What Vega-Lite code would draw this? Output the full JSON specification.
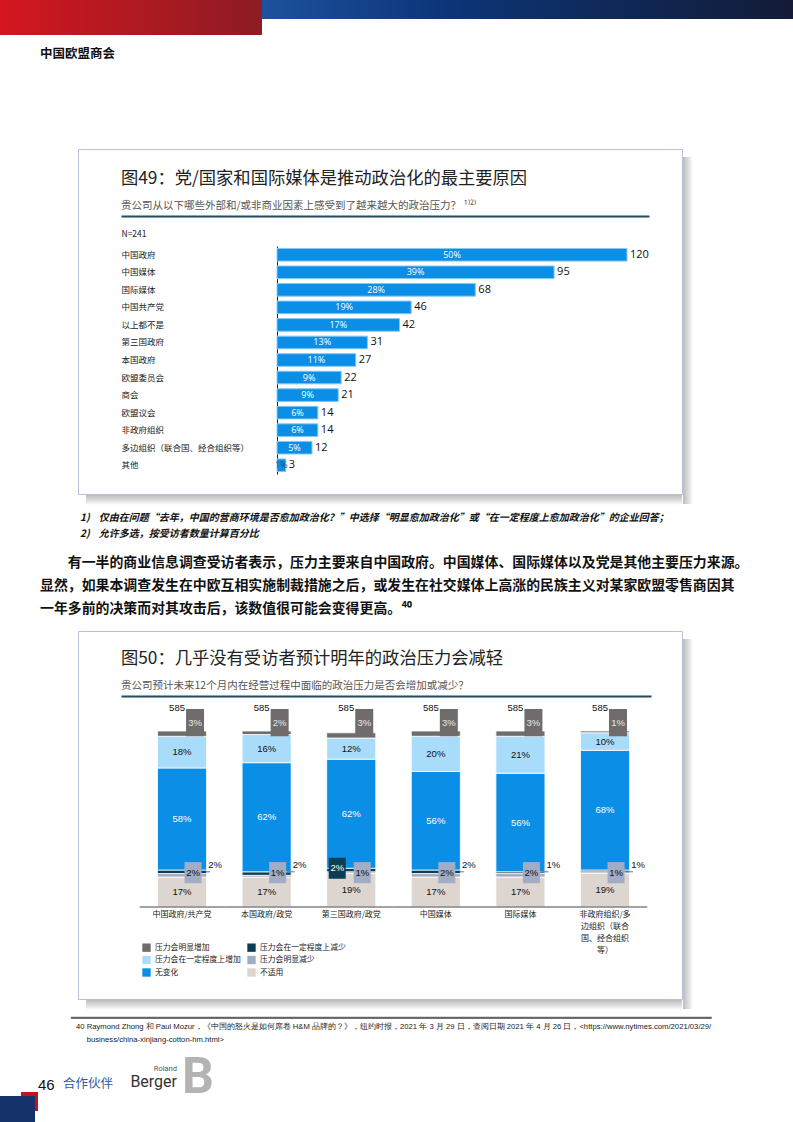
{
  "$schema": "https://vega.github.io/schema/vega-lite/v6.json",
  "padding": 0,
  "background": "white",
  "spacing": 0,
  "config": {
    "font": "Noto Sans CJK SC",
    "view": {"stroke": null},
    "title": {"font": "Noto Sans CJK SC", "subtitleFont": "Noto Sans CJK SC", "fontWeight": "normal", "anchor": "start", "frame": "group", "limit": 800},
    "axis": {"labelFont": "Noto Sans CJK SC", "titleFont": "Noto Sans CJK SC"},
    "legend": {"labelFont": "Noto Sans CJK SC"},
    "text": {"font": "Noto Sans CJK SC"}
  },
  "datasets": {
    "fig49": [
      {"cat": "中国政府", "n": 120, "pct": 0.50},
      {"cat": "中国媒体", "n": 95, "pct": 0.39},
      {"cat": "国际媒体", "n": 68, "pct": 0.28},
      {"cat": "中国共产党", "n": 46, "pct": 0.19},
      {"cat": "以上都不是", "n": 42, "pct": 0.17},
      {"cat": "第三国政府", "n": 31, "pct": 0.13},
      {"cat": "本国政府", "n": 27, "pct": 0.11},
      {"cat": "欧盟委员会", "n": 22, "pct": 0.09},
      {"cat": "商会", "n": 21, "pct": 0.09},
      {"cat": "欧盟议会", "n": 14, "pct": 0.06},
      {"cat": "非政府组织", "n": 14, "pct": 0.06},
      {"cat": "多边组织（联合国、经合组织等）", "n": 12, "pct": 0.05},
      {"cat": "其他", "n": 3, "pct": 0.01}
    ],
    "fig50": [
      {"cat": "中国政府/共产党", "resp": "不适用", "o": 1, "pct": 0.17, "n": 585},
      {"cat": "中国政府/共产党", "resp": "压力会明显减少", "o": 2, "pct": 0.02, "n": 585},
      {"cat": "中国政府/共产党", "resp": "压力会在一定程度上减少", "o": 3, "pct": 0.02, "n": 585},
      {"cat": "中国政府/共产党", "resp": "无变化", "o": 4, "pct": 0.58, "n": 585},
      {"cat": "中国政府/共产党", "resp": "压力会在一定程度上增加", "o": 5, "pct": 0.18, "n": 585},
      {"cat": "中国政府/共产党", "resp": "压力会明显增加", "o": 6, "pct": 0.03, "n": 585},
      {"cat": "本国政府/政党", "resp": "不适用", "o": 1, "pct": 0.17, "n": 585},
      {"cat": "本国政府/政党", "resp": "压力会明显减少", "o": 2, "pct": 0.01, "n": 585},
      {"cat": "本国政府/政党", "resp": "压力会在一定程度上减少", "o": 3, "pct": 0.02, "n": 585},
      {"cat": "本国政府/政党", "resp": "无变化", "o": 4, "pct": 0.62, "n": 585},
      {"cat": "本国政府/政党", "resp": "压力会在一定程度上增加", "o": 5, "pct": 0.16, "n": 585},
      {"cat": "本国政府/政党", "resp": "压力会明显增加", "o": 6, "pct": 0.02, "n": 585},
      {"cat": "第三国政府/政党", "resp": "不适用", "o": 1, "pct": 0.19, "n": 585},
      {"cat": "第三国政府/政党", "resp": "压力会明显减少", "o": 2, "pct": 0.01, "n": 585},
      {"cat": "第三国政府/政党", "resp": "压力会在一定程度上减少", "o": 3, "pct": 0.02, "n": 585},
      {"cat": "第三国政府/政党", "resp": "无变化", "o": 4, "pct": 0.62, "n": 585},
      {"cat": "第三国政府/政党", "resp": "压力会在一定程度上增加", "o": 5, "pct": 0.12, "n": 585},
      {"cat": "第三国政府/政党", "resp": "压力会明显增加", "o": 6, "pct": 0.03, "n": 585},
      {"cat": "中国媒体", "resp": "不适用", "o": 1, "pct": 0.17, "n": 585},
      {"cat": "中国媒体", "resp": "压力会明显减少", "o": 2, "pct": 0.02, "n": 585},
      {"cat": "中国媒体", "resp": "压力会在一定程度上减少", "o": 3, "pct": 0.02, "n": 585},
      {"cat": "中国媒体", "resp": "无变化", "o": 4, "pct": 0.56, "n": 585},
      {"cat": "中国媒体", "resp": "压力会在一定程度上增加", "o": 5, "pct": 0.20, "n": 585},
      {"cat": "中国媒体", "resp": "压力会明显增加", "o": 6, "pct": 0.03, "n": 585},
      {"cat": "国际媒体", "resp": "不适用", "o": 1, "pct": 0.17, "n": 585},
      {"cat": "国际媒体", "resp": "压力会明显减少", "o": 2, "pct": 0.02, "n": 585},
      {"cat": "国际媒体", "resp": "压力会在一定程度上减少", "o": 3, "pct": 0.01, "n": 585},
      {"cat": "国际媒体", "resp": "无变化", "o": 4, "pct": 0.56, "n": 585},
      {"cat": "国际媒体", "resp": "压力会在一定程度上增加", "o": 5, "pct": 0.21, "n": 585},
      {"cat": "国际媒体", "resp": "压力会明显增加", "o": 6, "pct": 0.03, "n": 585},
      {"cat": "非政府组织/多边组织（联合国、经合组织等）", "resp": "不适用", "o": 1, "pct": 0.19, "n": 585},
      {"cat": "非政府组织/多边组织（联合国、经合组织等）", "resp": "压力会明显减少", "o": 2, "pct": 0.01, "n": 585},
      {"cat": "非政府组织/多边组织（联合国、经合组织等）", "resp": "压力会在一定程度上减少", "o": 3, "pct": 0.01, "n": 585},
      {"cat": "非政府组织/多边组织（联合国、经合组织等）", "resp": "无变化", "o": 4, "pct": 0.68, "n": 585},
      {"cat": "非政府组织/多边组织（联合国、经合组织等）", "resp": "压力会在一定程度上增加", "o": 5, "pct": 0.10, "n": 585},
      {"cat": "非政府组织/多边组织（联合国、经合组织等）", "resp": "压力会明显增加", "o": 6, "pct": 0.01, "n": 585}
    ]
  },
  "vconcat": [
    {
      "hconcat": [
        {"width": 262, "height": 35, "data": {"values": []}, "mark": "point",
         "view": {"stroke": null, "fill": {"gradient": "linear", "x1": 0, "y1": 0, "x2": 1, "y2": 0, "stops": [{"offset": 0, "color": "#d4161f"}, {"offset": 1, "color": "#8d1c24"}]}}},
        {"width": 531, "height": 19, "data": {"values": []}, "mark": "point",
         "view": {"stroke": null, "fill": {"gradient": "linear", "x1": 0, "y1": 0, "x2": 1, "y2": 0, "stops": [{"offset": 0, "color": "#1e519e"}, {"offset": 0.35, "color": "#0c3578"}, {"offset": 1, "color": "#131b36"}]}}}
      ],
      "spacing": 0
    },
    {
      "hconcat": [
        {"width": 40, "height": 113, "data": {"values": []}, "mark": "point"},
        {"width": 200, "height": 1, "data": {"values": []}, "mark": "point",
         "title": {"text": "中国欧盟商会", "orient": "bottom", "anchor": "start", "frame": "group", "offset": 12, "fontSize": 12.5, "fontWeight": "bold", "color": "#111111"}}
      ],
      "spacing": 0
    },
    {
      "hconcat": [
        {"width": 77, "height": 355, "data": {"values": []}, "mark": "point"},
        {
          "vconcat": [
            {
              "width": 604, "height": 345,
              "view": {"stroke": "#b7c2da", "strokeWidth": 1},
              "title": {"text": "图49：党/国家和国际媒体是推动政治化的最主要原因", "subtitle": "贵公司从以下哪些外部和/或非商业因素上感受到了越来越大的政治压力？ ¹⁾²⁾", "orient": "top", "anchor": "start", "frame": "group", "offset": -62, "dx": 43, "fontSize": 17.3, "fontWeight": "normal", "color": "#222222", "subtitleFontSize": 10.5, "subtitleColor": "#555555", "subtitlePadding": 13},
              "data": {"name": "fig49"},
              "encoding": {
                "y": {"field": "cat", "type": "nominal", "sort": null,
                  "scale": {"range": [97, 325], "paddingInner": 0, "paddingOuter": 0},
                  "axis": {"orient": "left", "offset": -199, "labelPadding": 156, "labelAlign": "left", "ticks": false, "tickSize": 0, "domain": true, "domainColor": "#222222", "domainWidth": 1, "labelFontSize": 8.5, "labelColor": "#222222", "labelLimit": 200, "grid": false,
                    "title": "N=241", "titleAngle": 0, "titleAlign": "left", "titleBaseline": "middle", "titleX": -156, "titleY": 84, "titleFontSize": 8.5, "titleFontWeight": "normal", "titleColor": "#222222"}}
              },
              "layer": [
                {"mark": {"type": "bar", "height": {"band": 0.72}, "color": "#0b8fe6", "stroke": "#86c8f4", "strokeWidth": 1},
                 "encoding": {"x": {"field": "n", "type": "quantitative",
                   "scale": {"domain": [-53.49, 127.54], "range": [43, 571], "nice": false, "zero": false},
                   "axis": {"orient": "top", "offset": -67, "labels": false, "ticks": false, "domain": true, "domainColor": "#1f4d5f", "domainWidth": 2, "title": null, "grid": false}}}},
                {"mark": {"type": "text", "fontSize": 9, "font": "Open Sans"},
                 "encoding": {"x": {"field": "n", "type": "quantitative", "stack": "zero", "bandPosition": 0.5},
                   "text": {"field": "pct", "type": "quantitative", "format": ".0%"},
                   "color": {"condition": {"test": "datum.n < 5", "value": "#1f4d7a"}, "value": "white"}}},
                {"mark": {"type": "text", "align": "left", "dx": 3, "fontSize": 11, "color": "#111111", "font": "Open Sans"},
                 "encoding": {"x": {"field": "n", "type": "quantitative"}, "text": {"field": "n", "type": "quantitative"}}}
              ]
            },
            {"hconcat": [
              {"width": 8, "height": 10, "data": {"values": []}, "mark": "point"},
              {"width": 596, "height": 10, "data": {"values": []}, "mark": "point",
               "view": {"stroke": null, "fill": {"gradient": "linear", "x1": 0, "y1": 0, "x2": 0, "y2": 1, "stops": [{"offset": 0, "color": "#bcbcbc"}, {"offset": 0.6, "color": "#e2e2e2"}, {"offset": 1, "color": "#ffffff"}]}}}
            ], "spacing": 0}
          ],
          "spacing": 0
        },
        {
          "vconcat": [
            {"width": 10, "height": 8, "data": {"values": []}, "mark": "point"},
            {"width": 10, "height": 347, "data": {"values": []}, "mark": "point",
             "view": {"stroke": null, "fill": {"gradient": "linear", "x1": 0, "y1": 0, "x2": 1, "y2": 0, "stops": [{"offset": 0, "color": "#bcbcbc"}, {"offset": 0.6, "color": "#e2e2e2"}, {"offset": 1, "color": "#ffffff"}]}}}
          ],
          "spacing": 0
        }
      ],
      "spacing": 0
    },
    {
      "hconcat": [
        {"width": 80, "height": 37, "data": {"values": []}, "mark": "point"},
        {"width": 600, "height": 1, "data": {"values": []}, "mark": "point",
         "title": {"text": ["1)\u00a0\u00a0\u00a0\u00a0仅由在问题“去年，中国的营商环境是否愈加政治化？”中选择“明显愈加政治化”或“在一定程度上愈加政治化”的企业回答；", "2)\u00a0\u00a0\u00a0\u00a0允许多选，按受访者数量计算百分比"], "orient": "bottom", "anchor": "start", "frame": "group", "offset": 7, "fontSize": 10, "fontStyle": "italic", "fontWeight": "bold", "lineHeight": 16, "color": "#111111"}}
      ],
      "spacing": 0
    },
    {
      "hconcat": [
        {"width": 40, "height": 88, "data": {"values": []}, "mark": "point"},
        {"width": 720, "height": 1, "data": {"values": []}, "mark": "point",
         "title": {"text": ["\u200b\u3000\u3000有一半的商业信息调查受访者表示，压力主要来自中国政府。中国媒体、国际媒体以及党是其他主要压力来源。", "显然，如果本调查发生在中欧互相实施制裁措施之后，或发生在社交媒体上高涨的民族主义对某家欧盟零售商因其", "一年多前的决策而对其攻击后，该数值很可能会变得更高。⁴⁰"], "orient": "bottom", "anchor": "start", "frame": "group", "offset": 13, "fontSize": 13.9, "fontWeight": "bold", "lineHeight": 23, "color": "#111111"}}
      ],
      "spacing": 0
    },
    {
      "hconcat": [
        {"width": 77, "height": 385, "data": {"values": []}, "mark": "point"},
        {
          "vconcat": [
            {
              "width": 604, "height": 368,
              "view": {"stroke": "#b7c2da", "strokeWidth": 1},
              "title": {"text": "图50：几乎没有受访者预计明年的政治压力会减轻", "subtitle": "贵公司预计未来12个月内在经营过程中面临的政治压力是否会增加或减少？", "orient": "top", "anchor": "start", "frame": "group", "offset": -60, "dx": 43, "fontSize": 17.3, "fontWeight": "normal", "color": "#222222", "subtitleFontSize": 10.5, "subtitleColor": "#555555", "subtitlePadding": 13},
              "data": {"name": "fig50"},
              "resolve": {"axis": {"x": "independent"}},
              "layer": [
                {"mark": {"type": "bar", "stroke": "white", "strokeWidth": 0.8},
                 "encoding": {
                   "x": {"field": "cat", "type": "nominal", "sort": null,
                     "scale": {"range": [43, 573], "paddingInner": 0.42, "paddingOuter": 0.3425, "align": 0.63},
                     "axis": {"orient": "bottom", "offset": -92, "domain": false, "ticks": false, "labelPadding": 3, "labelFontSize": 8, "labelColor": "#222222", "labelAngle": 0, "labelLineHeight": 12.3, "labelLimit": 120, "title": null, "grid": false,
                       "labelExpr": "datum.label == '非政府组织/多边组织（联合国、经合组织等）' ? ['非政府组织/多', '边组织（联合', '国、经合组织', '等）'] : datum.label"}},
                   "y": {"field": "pct", "type": "quantitative", "stack": "zero", "scale": {"domain": [0, 1], "range": [276, 100], "nice": false, "zero": false}, "axis": null},
                   "color": {"field": "resp", "type": "nominal",
                     "scale": {"domain": ["压力会明显增加", "压力会在一定程度上减少", "压力会在一定程度上增加", "压力会明显减少", "无变化", "不适用"], "range": ["#716c6c", "#0b3d53", "#a9dcfa", "#a3acc5", "#0b8fe6", "#ddd5cf"]},
                     "legend": {"orient": "none", "legendX": 142, "legendY": 943, "columns": 2, "direction": "horizontal", "title": null, "symbolType": "square", "symbolSize": 70, "symbolStrokeWidth": 0, "labelFontSize": 7.8, "labelColor": "#222222", "labelOffset": 4, "columnPadding": 6, "rowPadding": 3.5, "labelLimit": 150}},
                   "order": {"field": "o", "type": "quantitative"}
                 }},
                {"mark": {"type": "text", "fontSize": 9.5, "font": "Liberation Sans"},
                 "encoding": {
                   "x": {"field": "cat", "type": "nominal", "sort": null, "axis": null},
                   "y": {"field": "pct", "type": "quantitative", "stack": "zero", "bandPosition": 0.5, "axis": null},
                   "detail": {"field": "resp", "type": "nominal"},
                   "order": {"field": "o", "type": "quantitative"},
                   "text": {"field": "pct", "type": "quantitative", "format": ".0%"},
                   "opacity": {"condition": {"test": "datum.resp === '无变化' || datum.resp === '压力会在一定程度上增加' || datum.resp === '不适用'", "value": 1}, "value": 0},
                   "color": {"condition": {"test": "datum.resp === '无变化'", "value": "white"}, "value": "#111111"}
                 }},
                {"transform": [{"filter": "datum.resp === '压力会明显增加'"}],
                 "mark": {"type": "bar", "width": 18, "xOffset": 13, "color": "#716c6c"},
                 "encoding": {
                   "x": {"field": "cat", "type": "nominal", "sort": null, "axis": null},
                   "y": {"datum": 0.97, "type": "quantitative", "axis": null},
                   "y2": {"datum": 1.125}
                 }},
                {"transform": [{"filter": "datum.resp === '压力会明显增加'"}],
                 "mark": {"type": "text", "dx": 13, "fontSize": 9.5, "color": "#e6e6e6", "font": "Liberation Sans"},
                 "encoding": {
                   "x": {"field": "cat", "type": "nominal", "sort": null, "axis": null},
                   "y": {"datum": 1.045, "type": "quantitative", "axis": null},
                   "text": {"field": "pct", "type": "quantitative", "format": ".0%"}
                 }},
                {"transform": [{"filter": "datum.resp === '压力会明显增加'"}],
                 "mark": {"type": "text", "dx": -5, "fontSize": 9.5, "color": "#111111", "font": "Liberation Sans"},
                 "encoding": {
                   "x": {"field": "cat", "type": "nominal", "sort": null, "axis": null},
                   "y": {"datum": 1.13, "type": "quantitative", "axis": null},
                   "text": {"field": "n", "type": "quantitative"}
                 }},
                {"transform": [{"filter": "datum.resp === '压力会在一定程度上减少' && datum.cat !== '第三国政府/政党'"}],
                 "mark": {"type": "tick", "orient": "horizontal", "size": 8, "thickness": 1, "xOffset": 24, "color": "#1f3f52"},
                 "encoding": {
                   "x": {"field": "cat", "type": "nominal", "sort": null, "axis": null},
                   "y": {"datum": 0.2, "type": "quantitative", "axis": null}
                 }},
                {"transform": [{"filter": "datum.resp === '压力会明显减少'"}],
                 "mark": {"type": "bar", "width": 17, "xOffset": 11, "color": "#a3acc5"},
                 "encoding": {
                   "x": {"field": "cat", "type": "nominal", "sort": null, "axis": null},
                   "y": {"datum": 0.135, "type": "quantitative", "axis": null},
                   "y2": {"datum": 0.255}
                 }},
                {"transform": [{"filter": "datum.resp === '压力会明显减少'"}],
                 "mark": {"type": "text", "dx": 11, "fontSize": 9.5, "color": "#111111", "font": "Liberation Sans"},
                 "encoding": {
                   "x": {"field": "cat", "type": "nominal", "sort": null, "axis": null},
                   "y": {"datum": 0.195, "type": "quantitative", "axis": null},
                   "text": {"field": "pct", "type": "quantitative", "format": ".0%"}
                 }},
                {"transform": [{"filter": "datum.resp === '压力会在一定程度上减少' && datum.cat === '第三国政府/政党'"}],
                 "mark": {"type": "bar", "width": 17, "xOffset": -14, "color": "#0b3d53"},
                 "encoding": {
                   "x": {"field": "cat", "type": "nominal", "sort": null, "axis": null},
                   "y": {"datum": 0.16, "type": "quantitative", "axis": null},
                   "y2": {"datum": 0.28}
                 }},
                {"transform": [{"filter": "datum.resp === '压力会在一定程度上减少' && datum.cat === '第三国政府/政党'"}],
                 "mark": {"type": "text", "dx": -14, "fontSize": 9.5, "color": "white", "font": "Liberation Sans"},
                 "encoding": {
                   "x": {"field": "cat", "type": "nominal", "sort": null, "axis": null},
                   "y": {"datum": 0.22, "type": "quantitative", "axis": null},
                   "text": {"field": "pct", "type": "quantitative", "format": ".0%"}
                 }},
                {"transform": [{"filter": "datum.resp === '压力会在一定程度上减少' && datum.cat !== '第三国政府/政党'"}],
                 "mark": {"type": "text", "dx": 33, "fontSize": 9.5, "color": "#111111", "font": "Liberation Sans"},
                 "encoding": {
                   "x": {"field": "cat", "type": "nominal", "sort": null, "axis": null},
                   "y": {"datum": 0.24, "type": "quantitative", "axis": null},
                   "text": {"field": "pct", "type": "quantitative", "format": ".0%"}
                 }},
                {"transform": [{"filter": "datum.resp === '不适用'"}],
                 "mark": {"type": "tick", "orient": "horizontal", "size": 84.6, "thickness": 2, "color": "#7b7b7b"},
                 "encoding": {
                   "x": {"field": "cat", "type": "nominal", "sort": null,
                     "axis": {"orient": "top", "offset": -65, "labels": false, "ticks": false, "domain": true, "domainColor": "#1f4d5f", "domainWidth": 2, "title": null, "grid": false}},
                   "y": {"datum": 0, "type": "quantitative", "axis": null}
                 }}
              ]
            },
            {"hconcat": [
              {"width": 8, "height": 10, "data": {"values": []}, "mark": "point"},
              {"width": 596, "height": 10, "data": {"values": []}, "mark": "point",
               "view": {"stroke": null, "fill": {"gradient": "linear", "x1": 0, "y1": 0, "x2": 0, "y2": 1, "stops": [{"offset": 0, "color": "#bcbcbc"}, {"offset": 0.6, "color": "#e2e2e2"}, {"offset": 1, "color": "#ffffff"}]}}}
            ], "spacing": 0}
          ],
          "spacing": 0
        },
        {
          "vconcat": [
            {"width": 10, "height": 8, "data": {"values": []}, "mark": "point"},
            {"width": 10, "height": 370, "data": {"values": []}, "mark": "point",
             "view": {"stroke": null, "fill": {"gradient": "linear", "x1": 0, "y1": 0, "x2": 1, "y2": 0, "stops": [{"offset": 0, "color": "#bcbcbc"}, {"offset": 0.6, "color": "#e2e2e2"}, {"offset": 1, "color": "#ffffff"}]}}}
          ],
          "spacing": 0
        }
      ],
      "spacing": 0
    },
    {
      "hconcat": [
        {"width": 70, "height": 35, "data": {"values": []}, "mark": "point"},
        {"width": 640, "height": 1, "data": {"values": []}, "mark": "point",
         "view": {"stroke": "#222222", "strokeWidth": 0.8},
         "title": {"text": ["40 Raymond Zhong 和 Paul Mozur，《中国的怒火是如何席卷 H&M 品牌的？》，纽约时报，2021 年 3 月 29 日，查阅日期 2021 年 4 月 26 日，<https://www.nytimes.com/2021/03/29/", "\u200b\u00a0\u00a0\u00a0\u00a0\u00a0business/china-xinjiang-cotton-hm.html>"], "orient": "bottom", "anchor": "start", "frame": "group", "offset": 5, "dx": 5, "fontSize": 7.7, "lineHeight": 12.5, "font": "Liberation Sans", "color": "#222222"}}
      ],
      "spacing": 0
    },
    {
      "hconcat": [
        {
          "vconcat": [
            {"width": 38, "height": 40, "data": {"values": []}, "mark": "point"},
            {"hconcat": [
              {"width": 21, "height": 4, "data": {"values": []}, "mark": "point"},
              {"width": 17, "height": 4, "data": {"values": []}, "mark": "point", "view": {"stroke": null, "fill": "#c0141c"}}
            ], "spacing": 0},
            {"hconcat": [
              {"width": 35, "height": 30, "data": {"values": []}, "mark": "point", "view": {"stroke": null, "fill": "#15326b"}},
              {"width": 3, "height": 15, "data": {"values": []}, "mark": "point", "view": {"stroke": null, "fill": "#c0141c"}}
            ], "spacing": 0}
          ],
          "spacing": 0
        },
        {"width": 25, "height": 1, "data": {"values": []}, "mark": "point",
         "title": {"text": "46", "orient": "bottom", "anchor": "start", "frame": "group", "offset": 25, "fontSize": 15, "font": "Liberation Sans", "color": "#111111"}},
        {"width": 62, "height": 1, "data": {"values": []}, "mark": "point",
         "title": {"text": "合作伙伴", "orient": "bottom", "anchor": "start", "frame": "group", "offset": 25, "fontSize": 12.5, "color": "#2a5aa8"}},
        {"width": 57, "height": 1, "data": {"values": []}, "mark": "point",
         "title": {"text": "Roland", "subtitle": "Berger", "orient": "bottom", "anchor": "end", "frame": "group", "offset": 12, "dx": -5, "fontSize": 7.5, "font": "Roboto", "color": "#555555", "subtitleFont": "Roboto", "subtitleFontSize": 16, "subtitleColor": "#333333", "subtitlePadding": 1}},
        {"width": 40, "height": 1, "data": {"values": []}, "mark": "point",
         "title": {"text": "B", "orient": "bottom", "anchor": "start", "frame": "group", "offset": 0, "fontSize": 50, "fontWeight": "bold", "font": "Roboto", "color": "#b3b3b3"}}
      ],
      "spacing": 0
    }
  ]
}
